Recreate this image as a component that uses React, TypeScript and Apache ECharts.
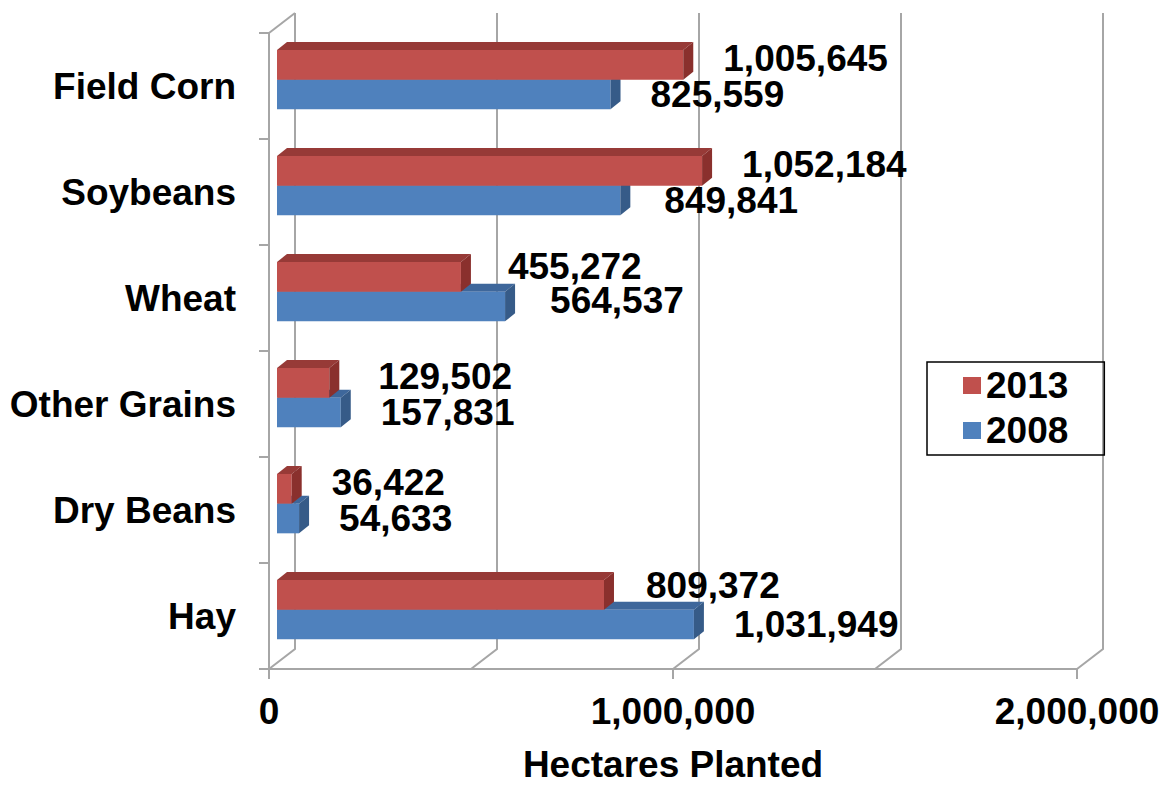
import React, { useEffect, useRef } from "react";
import * as echarts from "echarts";

// ---- data ----
const categories = ["Field Corn", "Soybeans", "Wheat", "Other Grains", "Dry Beans", "Hay"];
const values2013 = [1005645, 1052184, 455272, 129502, 36422, 809372];
const values2008 = [825559, 849841, 564537, 157831, 54633, 1031949];
const seriesNames = ["2013", "2008"];
const xMax = 2000000;
const xLabelStep = 1000000;
const xGridStep = 500000;
const axisTitle = "Hectares Planted";

// ---- style ----
const FONT = '"Liberation Sans", Arial, Helvetica, sans-serif';
const FS = 37;
const GRID_COLOR = "#A6A6A6";
const WALL_DX = 26;
const WALL_DY = 20;
const BAR_SHIFT = 8;
const DEPTH_DX = 10;
const DEPTH_DY = 8;
const LABEL_GAP = 40;
const RED = { front: "#C0504D", top: "#973A37", side: "#8A302D" };
const BLUE = { front: "#4F81BD", top: "#3E679B", side: "#365B88" };
// small hand placement tweaks of individual data labels (as in the reference)
const labelNudge: Record<string, [number, number]> = {
  "2013|Wheat": [7, -4],
  "2013|Other Grains": [9, 0],
  "2013|Hay": [2, -3],
  "2008|Soybeans": [4, 0],
  "2008|Wheat": [5, -6],
};

const fmt = (v: number) => v.toLocaleString("en-US");

function makeBars(name: string, values: number[], colors: any, upper: boolean) {
  return {
    type: "custom",
    name,
    data: values.map((v, i) => [v, i]),
    encode: { x: 0, y: 1 },
    itemStyle: { color: colors.front },
    z: upper ? 4 : 3,
    renderItem: (params: any, api: any) => {
      const v = api.value(0);
      const ci = api.value(1);
      const [xe0, yc] = api.coord([v, ci]);
      const [xs0] = api.coord([0, ci]);
      const band = api.size([0, 1])[1];
      const h = band * 0.28;
      const top = upper ? yc - band * 0.34 : yc - band * 0.06;
      const bottom = top + h;
      const xs = xs0 + BAR_SHIFT;
      const xe = xe0 + BAR_SHIFT;
      const key = name + "|" + categories[ci];
      const nudge = labelNudge[key] || [0, 0];
      return {
        type: "group",
        children: [
          {
            type: "polygon",
            shape: { points: [[xs, top], [xs + DEPTH_DX, top - DEPTH_DY], [xe + DEPTH_DX, top - DEPTH_DY], [xe, top]] },
            style: { fill: colors.top },
          },
          {
            type: "rect",
            shape: { x: xs, y: top, width: xe - xs, height: h },
            style: { fill: colors.front },
          },
          {
            type: "polygon",
            shape: { points: [[xe, top], [xe + DEPTH_DX, top - DEPTH_DY], [xe + DEPTH_DX, bottom - DEPTH_DY], [xe, bottom]] },
            style: { fill: colors.side },
          },
          {
            type: "text",
            x: xe + LABEL_GAP + nudge[0],
            y: (top + bottom) / 2 + (upper ? -6 : 0) + nudge[1],
            style: {
              text: fmt(v),
              fill: "#000",
              font: `bold ${FS}px ${FONT}`,
              align: "left",
              verticalAlign: "middle",
            },
          },
        ],
      };
    },
  };
}

export default function App() {
  const ref = useRef<HTMLDivElement>(null);
  useEffect(() => {
    if (!ref.current) return;
    const chart = echarts.init(ref.current, undefined, { renderer: "svg" });
    const frameSeries = {
      type: "custom",
      name: "frame",
      silent: true,
      z: 1,
      data: [[0, 0]],
      encode: { x: 0, y: 1 },
      renderItem: (params: any, api: any) => {
        const cs = params.coordSys;
        const left = cs.x;
        const top = cs.y;
        const bottom = cs.y + cs.height;
        const st = { stroke: GRID_COLOR, lineWidth: 2, fill: "none" };
        const children: any[] = [
          { type: "line", shape: { x1: left, y1: top, x2: left + WALL_DX, y2: top - WALL_DY }, style: st },
        ];
        for (let v = 0; v <= xMax; v += xGridStep) {
          const x = api.coord([v, 0])[0];
          children.push({
            type: "polyline",
            shape: { points: [[x, bottom], [x + WALL_DX, bottom - WALL_DY], [x + WALL_DX, top - WALL_DY]] },
            style: st,
          });
        }
        return { type: "group", children };
      },
    };
    const txt = { fontSize: FS, fontWeight: "bold", color: "#000", fontFamily: FONT };
    chart.setOption({
      animation: false,
      backgroundColor: "#fff",
      textStyle: { fontFamily: FONT },
      grid: { left: 269, top: 33, width: 808, height: 640, containLabel: false },
      legend: {
        data: seriesNames,
        orient: "vertical",
        left: 927,
        top: 362,
        icon: "rect",
        itemWidth: 18,
        itemHeight: 17,
        itemGap: 8,
        borderColor: "#000",
        borderWidth: 1.5,
        padding: [5, 36, 6, 36],
        textStyle: { ...txt, lineHeight: 36 },
      },
      xAxis: {
        type: "value",
        min: 0,
        max: xMax,
        interval: xLabelStep,
        axisLine: { show: true, lineStyle: { color: GRID_COLOR, width: 2 } },
        axisTick: { show: true, length: 10, lineStyle: { color: GRID_COLOR, width: 2 } },
        splitLine: { show: false },
        axisLabel: { formatter: (v: number) => fmt(v), margin: 24, ...txt },
        name: axisTitle,
        nameLocation: "middle",
        nameGap: 77,
        nameTextStyle: txt,
      },
      yAxis: {
        type: "category",
        data: categories,
        inverse: true,
        axisLine: { show: true, lineStyle: { color: GRID_COLOR, width: 2 } },
        axisTick: { show: true, length: 10, lineStyle: { color: GRID_COLOR, width: 2 } },
        splitLine: { show: false },
        axisLabel: { margin: 33, ...txt },
      },
      series: [
        frameSeries,
        makeBars("2008", values2008, BLUE, false),
        makeBars("2013", values2013, RED, true),
      ],
    });
    return () => chart.dispose();
  }, []);
  return <div ref={ref} style={{ position: "fixed", left: 0, top: 0, width: 1166, height: 788 }} />;
}
